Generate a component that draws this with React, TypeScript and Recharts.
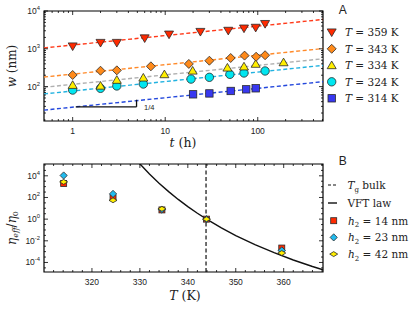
import React from "react";
import {
  ComposedChart,
  Scatter,
  Line,
  XAxis,
  YAxis,
  ReferenceLine,
  ReferenceArea,
} from "recharts";

// ---------- Panel A: w (nm) vs t (h) ----------
const t359 = [1, 2, 3, 6, 11, 24, 48, 71, 95, 120];
const w359 = [1165, 1445, 1445, 1905, 2400, 2820, 3020, 3470, 3630, 4570];
const t343 = [1, 2, 3, 7, 18, 30, 51, 72, 96, 120];
const w343 = [203, 263, 269, 344, 398, 484, 571, 661, 617, 676];
const t334 = [1, 2, 3, 5.8, 9.8, 19.8, 47, 71, 95, 190];
const w334 = [110, 105, 150, 172, 211, 263, 316, 339, 398, 437];
const t324 = [1, 2, 3, 5.8, 19, 30, 50, 71, 120];
const w324 = [81, 90, 104, 117, 158, 176, 211, 229, 259];
const t314 = [20, 30, 51, 75, 95];
const w314 = [62.5, 66, 76.6, 84.7, 90.2];

const tFit = [0.49, 507];
const fit359 = [1053, 5970];
const fit343 = [179, 1014];
const fit334 = [96, 545];
const fit324 = [64, 364];
const fit314 = [23.9, 135];

const slopeT = [1.08, 4.9];
const slopeW = [29.1, 45];

const tDomain = [0.49, 507];
const wDomain = [12.3, 10000];
const tMajor = [1, 10, 100];
const tTickVals = [0.5, 0.6, 0.7, 0.8, 0.9, 1, 2, 3, 4, 5, 6, 7, 8, 9, 10, 20, 30, 40, 50, 60, 70, 80, 90, 100, 200, 300, 400, 500];
const wTickVals = [20, 30, 40, 50, 60, 70, 80, 90, 100, 200, 300, 400, 500, 600, 700, 800, 900, 1000, 2000, 3000, 4000, 5000, 6000, 7000, 8000, 9000, 10000];
const wMajorExp = [2, 3, 4];

const legendA = ["359", "343", "334", "324", "314"];

// ---------- Panel B: eta_eff / eta_0 vs T (K) ----------
const TB = [314.1, 324.4, 334.6, 343.9, 359.6];
const eta14 = [1950, 95, 7.1, 1, 0.00214];
const eta23 = [10700, 214, 7.6, 1, 0.00129];
const eta42 = [2750, 55, 8.9, 1, 0.00074];
const TVft = [329.9, 332, 334, 336, 338, 340, 342, 344, 347, 350, 354, 358, 362, 366, 368.2];
const logEtaVft = [5.15, 4.17, 3.32, 2.54, 1.82, 1.16, 0.54, -0.03, -0.81, -1.52, -2.36, -3.1, -3.77, -4.37, -4.67];
const TgBulk = 343.8;

const TDomain = [310, 368.2];
const logEtaDomain = [-4.88, 5.09];
const TTicks = [312, 314, 316, 318, 320, 322, 324, 326, 328, 330, 332, 334, 336, 338, 340, 342, 344, 346, 348, 350, 352, 354, 356, 358, 360, 362, 364, 366, 368];
const TMajor = [320, 330, 340, 350, 360];
const etaTicks = [-4.5, -4, -3.5, -3, -2.5, -2, -1.5, -1, -0.5, 0, 0.5, 1, 1.5, 2, 2.5, 3, 3.5, 4, 4.5, 5];
const etaMajor = [-4, -2, 0, 2, 4];

// ---------- styling ----------
const C = {
  red: "#ff2a00",
  redLine: "#ff3a1a",
  orange: "#ff8a1a",
  orangeLine: "#ff8a2a",
  yellow: "#ffee00",
  greyLine: "#b0b0b0",
  cyan: "#00e6f0",
  cyanLine: "#22b2e0",
  blue: "#3838f0",
  blueLine: "#2448dc",
  bCyan: "#22bbee",
};
const SANS = "'Liberation Sans', Arial, sans-serif";
const SERIF = "'DejaVu Serif', serif";
const TXT = "#222";

const PW = 279;
const PH_A = 110;
const PH_B = 108;
const TM = 4;

type Kind = "triDown" | "triUp" | "diamond" | "flatDiamond" | "circle" | "square";

function Marker({ kind, cx, cy, fill, s }: { kind: Kind; cx: number; cy: number; fill: string; s: number }) {
  const st = { fill, stroke: "#2a2a2a", strokeWidth: 0.8 };
  switch (kind) {
    case "triDown":
      return <polygon points={`${cx - s},${cy - s * 0.75} ${cx + s},${cy - s * 0.75} ${cx},${cy + s * 0.95}`} {...st} />;
    case "triUp":
      return <polygon points={`${cx - s},${cy + s * 0.75} ${cx + s},${cy + s * 0.75} ${cx},${cy - s * 0.95}`} {...st} />;
    case "diamond":
      return <polygon points={`${cx},${cy - s} ${cx + s},${cy} ${cx},${cy + s} ${cx - s},${cy}`} {...st} />;
    case "flatDiamond":
      return <polygon points={`${cx},${cy - s * 0.62} ${cx + s},${cy} ${cx},${cy + s * 0.62} ${cx - s},${cy}`} {...st} />;
    case "circle":
      return <circle cx={cx} cy={cy} r={s} {...st} />;
    default:
      return <rect x={cx - s} y={cy - s} width={2 * s} height={2 * s} {...st} />;
  }
}

const shape = (kind: Kind, fill: string, s: number) => (p: any) =>
  p.cx == null ? <g /> : <Marker kind={kind} cx={p.cx} cy={p.cy} fill={fill} s={s} />;

const lg = (v: number) => Math.log10(v);
const pts = (xs: number[], ys: number[]) => xs.map((x, i) => ({ x: lg(x), y: lg(ys[i]) }));
const ptsLin = (xs: number[], ys: number[]) => xs.map((x, i) => ({ x, y: lg(ys[i]) }));

const near = (a: number, list: number[]) => list.some((b) => Math.abs(a - b) < 1e-6);

// custom ticks
const makeXTick = (ph: number, isMajor: (v: number) => boolean, label: (v: number) => string) => (props: any) => {
  const { x, y, payload } = props;
  const v = payload.value;
  const ay = y - TM;
  const major = isMajor(v);
  const len = major ? 4 : 2;
  return (
    <g>
      <line x1={x} x2={x} y1={ay} y2={ay - len} stroke="#000" strokeWidth={0.8} />
      <line x1={x} x2={x} y1={ay - ph} y2={ay - ph + len} stroke="#000" strokeWidth={0.8} />
      {major && (
        <text x={x} y={ay + 12.5} textAnchor="middle" fontSize={8.5} fontFamily={SANS} fill={TXT}>
          {label(v)}
        </text>
      )}
    </g>
  );
};

const makeYTick = (isMajor: (v: number) => boolean, exp: (v: number) => string) => (props: any) => {
  const { x, y, payload } = props;
  const v = payload.value;
  const ax = x + TM;
  const major = isMajor(v);
  const len = major ? 4 : 2;
  return (
    <g>
      <line x1={ax} x2={ax + len} y1={y} y2={y} stroke="#000" strokeWidth={0.8} />
      <line x1={ax + PW} x2={ax + PW - len} y1={y} y2={y} stroke="#000" strokeWidth={0.8} />
      {major && (
        <text x={x} y={y + 3} textAnchor="end" fontSize={8.5} fontFamily={SANS} fill={TXT}>
          10
          <tspan fontSize={5.8} dy={-4}>
            {exp(v)}
          </tspan>
        </text>
      )}
    </g>
  );
};

const tMajorLog = tMajor.map(lg);
const xTickA = makeXTick(PH_A, (v) => near(v, tMajorLog), (v) => String(Math.round(Math.pow(10, v))));
const wMajorLog = wMajorExp;
const yTickA = makeYTick((v) => near(v, wMajorLog), (v) => String(Math.round(v)));
const xTickB = makeXTick(PH_B, (v) => near(v, TMajor), (v) => String(v));
const yTickB = makeYTick((v) => near(v, etaMajor), (v) => String(Math.round(v)));

export default function App() {
  const xDomA = tDomain.map(lg);
  const yDomA = wDomain.map(lg);
  const fitLines = [
    { d: pts(tFit, fit359), c: C.redLine },
    { d: pts(tFit, fit343), c: C.orangeLine },
    { d: pts(tFit, fit334), c: C.greyLine },
    { d: pts(tFit, fit324), c: C.cyanLine },
    { d: pts(tFit, fit314), c: C.blueLine },
  ];
  const vft = TVft.map((T, i) => ({ x: T, y: logEtaVft[i] }));

  const legendAItems: { kind: Kind; fill: string; s: number }[] = [
    { kind: "triDown", fill: C.red, s: 4.5 },
    { kind: "diamond", fill: C.orange, s: 4.5 },
    { kind: "triUp", fill: C.yellow, s: 4.5 },
    { kind: "circle", fill: C.cyan, s: 4.2 },
    { kind: "square", fill: C.blue, s: 3.7 },
  ];

  return (
    <div style={{ position: "absolute", left: 0, top: 0, width: 416, height: 314, background: "#fff" }}>
      <div style={{ position: "absolute", left: 0, top: 0 }}>
        <ComposedChart width={416} height={150} margin={{ top: 11, right: 93, bottom: 0, left: 0 }}>
          <XAxis
            type="number"
            dataKey="x"
            domain={xDomA}
            ticks={tTickVals.map(lg)}
            interval={0}
            allowDataOverflow
            tickSize={0}
            tickMargin={TM}
            tickLine={false}
            axisLine={false}
            height={29}
            tick={xTickA}
          />
          <YAxis
            type="number"
            dataKey="y"
            domain={yDomA}
            ticks={wTickVals.map(lg)}
            interval={0}
            allowDataOverflow
            tickSize={0}
            tickMargin={TM}
            tickLine={false}
            axisLine={false}
            width={44}
            tick={yTickA}
          />
          {fitLines.map((f, i) => (
            <Line
              key={"f" + i}
              data={f.d}
              dataKey="y"
              stroke={f.c}
              strokeWidth={1.4}
              strokeDasharray="4 2.5"
              dot={false}
              activeDot={false}
              isAnimationActive={false}
              legendType="none"
            />
          ))}
          <ReferenceLine
            segment={[
              { x: lg(slopeT[0]), y: lg(slopeW[0]) },
              { x: lg(slopeT[1]), y: lg(slopeW[0]) },
            ]}
            stroke="#111"
            strokeWidth={1.3}
          />
          <ReferenceLine
            segment={[
              { x: lg(slopeT[1]), y: lg(slopeW[0]) },
              { x: lg(slopeT[1]), y: lg(slopeW[1]) },
            ]}
            stroke="#111"
            strokeWidth={1.3}
          />
          <Scatter data={pts(t314, w314)} dataKey="y" shape={shape("square", C.blue, 3.7)} isAnimationActive={false} />
          <Scatter data={pts(t324, w324)} dataKey="y" shape={shape("circle", C.cyan, 4.2)} isAnimationActive={false} />
          <Scatter data={pts(t334, w334)} dataKey="y" shape={shape("triUp", C.yellow, 4.5)} isAnimationActive={false} />
          <Scatter data={pts(t343, w343)} dataKey="y" shape={shape("diamond", C.orange, 4.5)} isAnimationActive={false} />
          <Scatter data={pts(t359, w359)} dataKey="y" shape={shape("triDown", C.red, 4.5)} isAnimationActive={false} />
          <ReferenceArea
            x1={xDomA[0]}
            x2={xDomA[1]}
            y1={yDomA[0]}
            y2={yDomA[1]}
            fill="none"
            fillOpacity={0}
            stroke="#000"
            strokeWidth={1.2}
            ifOverflow="visible"
          />
        </ComposedChart>
      </div>

      <div style={{ position: "absolute", left: 0, top: 150 }}>
        <ComposedChart width={416} height={164} margin={{ top: 14, right: 93, bottom: 0, left: 0 }}>
          <XAxis
            type="number"
            dataKey="x"
            domain={TDomain}
            ticks={TTicks}
            interval={0}
            allowDataOverflow
            tickSize={0}
            tickMargin={TM}
            tickLine={false}
            axisLine={false}
            height={42}
            tick={xTickB}
          />
          <YAxis
            type="number"
            dataKey="y"
            domain={logEtaDomain}
            ticks={etaTicks}
            interval={0}
            allowDataOverflow
            tickSize={0}
            tickMargin={TM}
            tickLine={false}
            axisLine={false}
            width={44}
            tick={yTickB}
          />
          <ReferenceLine x={TgBulk} stroke="#111" strokeWidth={1.2} strokeDasharray="4 2.5" />
          <Line
            data={vft}
            dataKey="y"
            stroke="#111"
            strokeWidth={1.4}
            dot={false}
            activeDot={false}
            isAnimationActive={false}
            legendType="none"
          />
          <Scatter data={ptsLin(TB, eta14)} dataKey="y" shape={shape("square", C.red, 3)} isAnimationActive={false} />
          <Scatter data={ptsLin(TB, eta23)} dataKey="y" shape={shape("diamond", C.bCyan, 3.6)} isAnimationActive={false} />
          <Scatter data={ptsLin(TB, eta42)} dataKey="y" shape={shape("flatDiamond", C.yellow, 4)} isAnimationActive={false} />
          <ReferenceArea
            x1={TDomain[0]}
            x2={TDomain[1]}
            y1={logEtaDomain[0]}
            y2={logEtaDomain[1]}
            fill="none"
            fillOpacity={0}
            stroke="#000"
            strokeWidth={1.2}
            ifOverflow="visible"
          />
        </ComposedChart>
      </div>

      <svg
        width={416}
        height={314}
        style={{ position: "absolute", left: 0, top: 0, pointerEvents: "none" }}
      >
        {/* Panel A labels */}
        <text x={342.7} y={13.5} textAnchor="middle" fontSize={12} fontFamily={SANS} fill={TXT}>
          A
        </text>
        {legendAItems.map((it, i) => {
          const cy = 32.3 + i * 16.5;
          return (
            <g key={"la" + i}>
              <Marker kind={it.kind} cx={331.7} cy={cy} fill={it.fill} s={it.s} />
              <text x={345} y={cy + 4} fontSize={10.5} fontFamily={SERIF} fill={TXT}>
                <tspan fontStyle="italic">T</tspan>
                {" = " + legendA[i] + " K"}
              </text>
            </g>
          );
        })}
        <text x={144} y={109.5} fontSize={7.5} fontFamily={SANS} fill={TXT}>
          1/4
        </text>
        <text
          x={12}
          y={66}
          transform="rotate(-90 12 66)"
          textAnchor="middle"
          dominantBaseline="central"
          fontSize={12}
          fontFamily={SERIF}
          fill={TXT}
        >
          <tspan fontStyle="italic">w</tspan> (nm)
        </text>
        <text x={183} y={146.5} textAnchor="middle" fontSize={12.5} fontFamily={SERIF} fill={TXT}>
          <tspan fontStyle="italic">t</tspan> (h)
        </text>

        {/* Panel B labels */}
        <text x={342.7} y={164.5} textAnchor="middle" fontSize={12} fontFamily={SANS} fill={TXT}>
          B
        </text>
        <line x1={328} x2={337} y1={185} y2={185} stroke="#111" strokeWidth={1.2} strokeDasharray="3 2" />
        <text x={347.5} y={189} fontSize={10.5} fontFamily={SERIF} fill={TXT}>
          <tspan fontStyle="italic">T</tspan>
          <tspan fontSize={7} dy={2.5}>g</tspan>
          <tspan dy={-2.5}> bulk</tspan>
        </text>
        <line x1={328} x2={337} y1={203} y2={203} stroke="#111" strokeWidth={1.4} />
        <text x={347.5} y={207} fontSize={10.5} fontFamily={SERIF} fill={TXT}>
          VFT law
        </text>
        {[
          { kind: "square" as Kind, fill: C.red, s: 3, label: "14" },
          { kind: "diamond" as Kind, fill: C.bCyan, s: 3.6, label: "23" },
          { kind: "flatDiamond" as Kind, fill: C.yellow, s: 4, label: "42" },
        ].map((it, i) => {
          const cy = 220.7 + i * 16.7;
          return (
            <g key={"lb" + i}>
              <Marker kind={it.kind} cx={333.7} cy={cy} fill={it.fill} s={it.s} />
              <text x={348} y={cy + 4} fontSize={10.5} fontFamily={SERIF} fill={TXT}>
                <tspan fontStyle="italic">h</tspan>
                <tspan fontSize={7} dy={2.5}>2</tspan>
                <tspan dy={-2.5}>{" = " + it.label + " nm"}</tspan>
              </text>
            </g>
          );
        })}
        <text
          x={12}
          y={228}
          transform="rotate(-90 12 228)"
          textAnchor="middle"
          dominantBaseline="central"
          fontSize={12}
          fontFamily={SERIF}
          fill={TXT}
        >
          <tspan fontStyle="italic">η</tspan>
          <tspan fontSize={8} fontStyle="italic" dy={2.5}>eff</tspan>
          <tspan dy={-2.5}>/</tspan>
          <tspan fontStyle="italic">η</tspan>
          <tspan fontSize={8} dy={2.5}>0</tspan>
        </text>
        <text x={185} y={299.5} textAnchor="middle" fontSize={12.5} fontFamily={SERIF} fill={TXT}>
          <tspan fontStyle="italic">T</tspan> (K)
        </text>
      </svg>
    </div>
  );
}
